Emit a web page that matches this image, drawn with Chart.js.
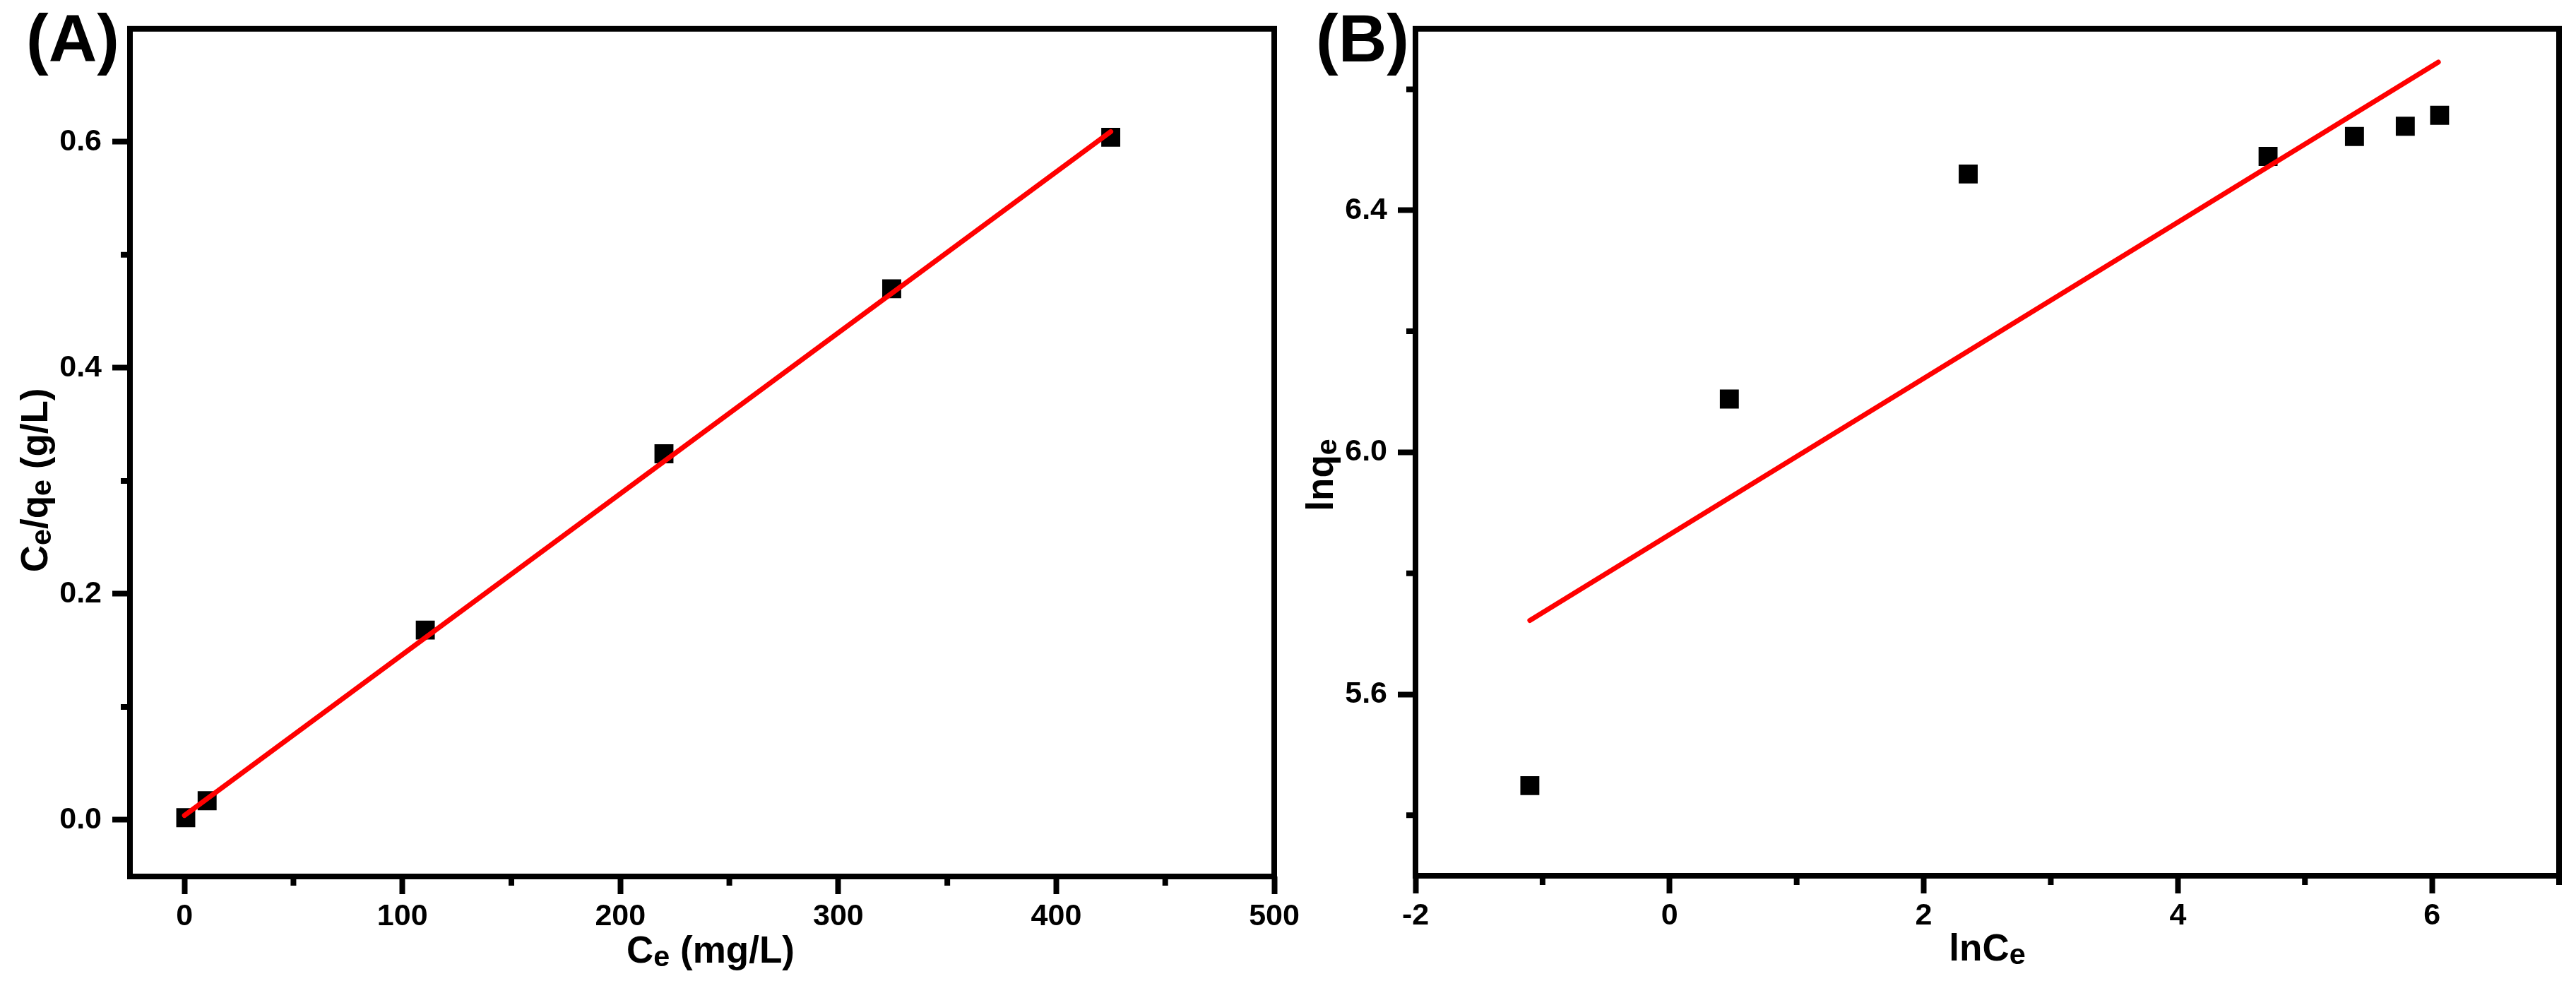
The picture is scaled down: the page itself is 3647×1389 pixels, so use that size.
<!DOCTYPE html>
<html>
<head>
<meta charset="utf-8">
<script src="https://cdn.jsdelivr.net/npm/chart.js@4.4.1/dist/chart.umd.min.js"></script>
<style>
  html, body { margin: 0; padding: 0; background: #fff; }
  #wrap { position: relative; width: 3647px; height: 1389px; overflow: hidden; background: #fff; }
  canvas { position: absolute; top: 0; }
  #chartA { left: 0; }
  #chartB { left: 1840px; }
</style>
</head>
<body>
<div id="wrap">
  <canvas id="chartA" width="1870" height="1389"></canvas>
  <canvas id="chartB" width="1807" height="1389"></canvas>
</div>
<script>
// Panel A: linear Langmuir plot, Ce/qe vs Ce
const ceA       = [0.6, 10.4, 110.5, 220, 324.5, 425];
const ceQeA     = [0.002, 0.017, 0.168, 0.324, 0.470, 0.604];
const fitCeA    = [0, 425];
const fitCeQeA  = [0.004, 0.609];
const xTicksA   = [0, 100, 200, 300, 400, 500];
const xMinorA   = [50, 150, 250, 350, 450];
const yTicksA   = [0, 0.2, 0.4, 0.6];
const yMinorA   = [0.1, 0.3, 0.5];

// Panel B: Freundlich plot, lnqe vs lnCe
const lnCeB     = [-1.1, 0.47, 2.35, 4.71, 5.39, 5.79, 6.06];
const lnQeB     = [5.449, 6.088, 6.46, 6.489, 6.522, 6.539, 6.557];
const fitLnCeB  = [-1.1, 6.05];
const fitLnQeB  = [5.722, 6.645];
const xTicksB   = [-2, 0, 2, 4, 6];
const xMinorB   = [-1, 1, 3, 5, 7];
const yTicksB   = [5.6, 6.0, 6.4];
const yMinorB   = [5.4, 5.8, 6.2, 6.6];

const FONT = "'Liberation Sans', Arial, Helvetica, sans-serif";

const toPoints = (xs, ys) => xs.map((x, i) => ({ x, y: ys[i] }));

// text with subscript parts: [text, isSub]
function drawRich(ctx, parts, cx, baseline, size) {
  const subSize = size * 0.78;
  const widths = parts.map(([t, sub]) => {
    ctx.font = `bold ${sub ? subSize : size}px ${FONT}`;
    return ctx.measureText(t).width;
  });
  let x = cx - widths.reduce((a, b) => a + b, 0) / 2;
  ctx.textAlign = 'left';
  ctx.textBaseline = 'alphabetic';
  parts.forEach(([t, sub], i) => {
    ctx.font = `bold ${sub ? subSize : size}px ${FONT}`;
    ctx.fillText(t, x, baseline + (sub ? size * 0.1 : 0));
    x += widths[i];
  });
}

const framePlugin = {
  id: 'frame',
  afterDraw(chart, args, o) {
    const { ctx, chartArea: a, scales: { x, y } } = chart;
    ctx.save();
    ctx.strokeStyle = '#000';
    ctx.fillStyle = '#000';
    ctx.lineWidth = 8;

    // minor ticks
    ctx.beginPath();
    o.xMinor.forEach(v => {
      const px = x.getPixelForValue(v);
      ctx.moveTo(px, a.bottom);
      ctx.lineTo(px, a.bottom + 13);
    });
    o.yMinor.forEach(v => {
      const py = y.getPixelForValue(v);
      ctx.moveTo(a.left, py);
      ctx.lineTo(a.left - 13, py);
    });
    ctx.stroke();

    // box
    ctx.lineJoin = 'miter';
    ctx.strokeRect(a.left, a.top, a.right - a.left, a.bottom - a.top);

    // axis titles
    drawRich(ctx, o.xTitle, (a.left + a.right) / 2 + o.xTitleDx, a.bottom + o.xTitleDy, 53);
    ctx.save();
    ctx.translate(a.left - 117, (a.top + a.bottom) / 2 + o.yTitleDy);
    ctx.rotate(-Math.PI / 2);
    drawRich(ctx, o.yTitle, 0, 0, 53);
    ctx.restore();

    // panel letter
    ctx.font = `bold 95px ${FONT}`;
    ctx.textAlign = 'left';
    ctx.textBaseline = 'alphabetic';
    ctx.fillText(o.panel, a.left + o.panelDx, 87);
    ctx.restore();
  }
};

function makeChart(id, cfg) {
  const tickFont = { family: FONT, size: 43, weight: 'bold' };
  return new Chart(document.getElementById(id), {
    type: 'scatter',
    data: {
      datasets: [
        {
          type: 'line',
          data: toPoints(cfg.fitX, cfg.fitY),
          borderColor: '#ff0000',
          borderWidth: 7,
          borderCapStyle: 'round',
          pointRadius: 0,
          fill: false,
          order: 0,
        },
        {
          data: toPoints(cfg.x, cfg.y),
          pointStyle: 'rect',
          pointRadius: 19,
          backgroundColor: '#000',
          borderColor: '#000',
          borderWidth: 0,
          order: 1,
        },
      ],
    },
    options: {
      responsive: false,
      animation: false,
      devicePixelRatio: 1,
      layout: { padding: cfg.padding },
      plugins: {
        legend: { display: false },
        tooltip: { enabled: false },
        frame: cfg.frame,
      },
      scales: {
        x: {
          type: 'linear',
          min: cfg.xMin,
          max: cfg.xMax,
          afterBuildTicks: s => { s.ticks = cfg.xTicks.map(value => ({ value })); },
          afterFit: s => { s.height = cfg.xAxisHeight; },
          ticks: {
            font: tickFont,
            color: '#000',
            padding: 6,
            maxRotation: 0,
            autoSkip: false,
            callback: v => cfg.xFmt(v),
          },
          grid: { drawOnChartArea: false, tickLength: 25, tickWidth: 8, tickColor: '#000' },
          border: { display: false },
        },
        y: {
          type: 'linear',
          min: cfg.yMin,
          max: cfg.yMax,
          afterBuildTicks: s => { s.ticks = cfg.yTicks.map(value => ({ value })); },
          afterFit: s => { s.width = cfg.yAxisWidth; },
          ticks: {
            font: tickFont,
            color: '#000',
            padding: 15,
            autoSkip: false,
            callback: v => cfg.yFmt(v),
          },
          grid: { drawOnChartArea: false, tickLength: 25, tickWidth: 8, tickColor: '#000' },
          border: { display: false },
        },
      },
    },
    plugins: [framePlugin],
  });
}

makeChart('chartA', {
  x: ceA, y: ceQeA, fitX: fitCeA, fitY: fitCeQeA,
  xMin: -25, xMax: 500, yMin: -0.05, yMax: 0.7,
  xTicks: xTicksA, yTicks: yTicksA,
  xFmt: v => String(v), yFmt: v => v.toFixed(1),
  padding: { top: 35, right: 66, bottom: 0, left: 0 },
  yAxisWidth: 184, xAxisHeight: 148,
  frame: {
    xMinor: xMinorA, yMinor: yMinorA,
    xTitle: [['C', false], ['e', true], [' (mg/L)', false]],
    yTitle: [['C', false], ['e', true], ['/q', false], ['e', true], [' (g/L)', false]],
    xTitleDx: 12, xTitleDy: 122, yTitleDy: 39,
    panel: '(A)', panelDx: -147,
  },
});

makeChart('chartB', {
  x: lnCeB, y: lnQeB, fitX: fitLnCeB, fitY: fitLnQeB,
  xMin: -2, xMax: 7, yMin: 5.3, yMax: 6.7,
  xTicks: xTicksB, yTicks: yTicksB,
  xFmt: v => String(v), yFmt: v => v.toFixed(1),
  padding: { top: 35, right: 24, bottom: 0, left: 0 },
  yAxisWidth: 164, xAxisHeight: 149,
  frame: {
    xMinor: xMinorB, yMinor: yMinorB,
    xTitle: [['lnC', false], ['e', true]],
    yTitle: [['lnq', false], ['e', true]],
    xTitleDx: 0, xTitleDy: 120, yTitleDy: 32,
    panel: '(B)', panelDx: -141,
  },
});
</script>
</body>
</html>
